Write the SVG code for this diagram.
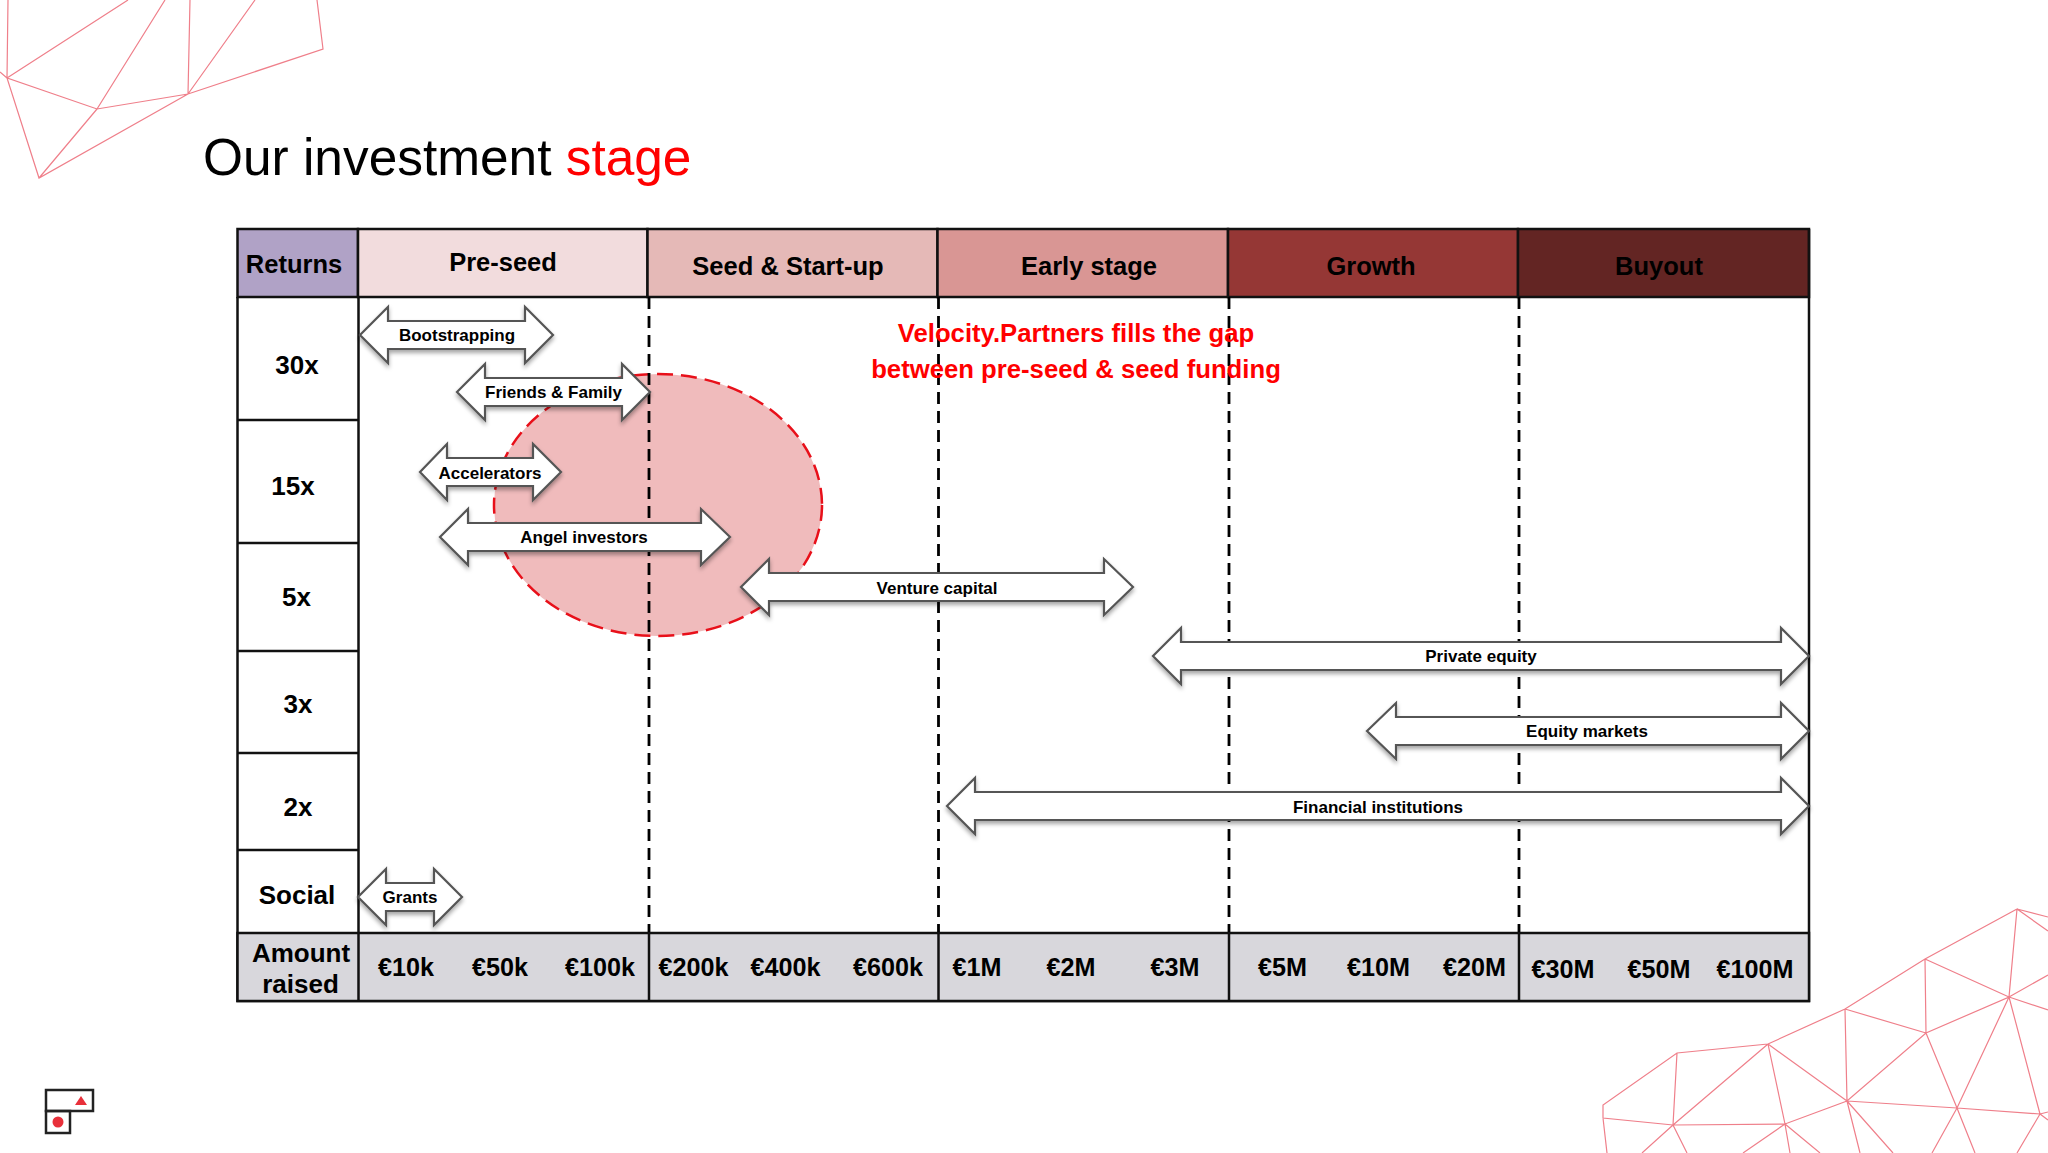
<svg xmlns="http://www.w3.org/2000/svg" width="2048" height="1153" viewBox="0 0 2048 1153">
<defs>
<style>
text{font-family:"Liberation Sans",Arial,sans-serif;fill:#000}
.b{font-weight:700;text-anchor:middle}
.h{font-size:25.500px}
.r{font-size:26px}
.a{font-size:25.200px}
.l{font-size:17px}
.cell{stroke:#111;stroke-width:2.500}
.grid{stroke:#111;stroke-width:2.500;fill:none}
.dash{stroke:#000;stroke-width:2.800;stroke-dasharray:12 7;fill:none}
.arrow{fill:#fff;stroke:#555;stroke-width:2.200;stroke-linejoin:miter;filter:url(#sh)}
.poly{fill:none;stroke:#EF7F8A;stroke-width:1.200}
</style>
<filter id="sh" x="-5%" y="-20%" width="110%" height="150%"><feDropShadow dx="0" dy="3" stdDeviation="2" flood-color="#000" flood-opacity="0.35"/></filter>
</defs>
<rect width="2048" height="1153" fill="#fff"/>
<g id="decor-top"><path class="poly" d="M317 0L323 49L188 94L97 109L7 78L39 178L188 94M97 109L39 178M97 109L165 0M7 78L128 0M7 78L8 0M7 78L0 72M188 94L190 0M188 94L255 0"/></g>
<g id="decor-bottom"><path class="poly" d="M2017 909L1925 959L1845 1009L1768 1044L1677 1053L1603 1105L1603 1118L1673 1125L1785 1124L1847 1101L1926 1033L2009 997L2017 909M1677 1053L1673 1125M1768 1044L1673 1125M1768 1044L1785 1124M1768 1044L1847 1101M1845 1009L1847 1101M1845 1009L1926 1033M1925 959L1926 1033M1925 959L2009 997M1847 1101L1957 1108L2040 1114M1926 1033L1957 1108M2009 997L1957 1108M2009 997L2040 1114M2017 909L2048 917M2017 909L2048 931M2009 997L2048 975M2009 997L2048 1010M1603 1118L1607 1153M1673 1125L1642 1153M1673 1125L1687 1153M1785 1124L1743 1153M1785 1124L1790 1153M1785 1124L1820 1153M1847 1101L1860 1153M1847 1101L1893 1153M1957 1108L1932 1153M1957 1108L1975 1153M2040 1114L2017 1153M2040 1114L2048 1120M2040 1114L2048 1112"/></g>
<g id="title"><text x="203" y="175" font-size="51.400">Our investment <tspan fill="#FF0000" style="fill:#FF0000">stage</tspan></text></g>
<g id="header">
<rect class="cell" x="237.500" y="229" width="120.500" height="68" fill="#B0A2C6"/>
<rect class="cell" x="358" y="229" width="289.500" height="68" fill="#F2DCDD"/>
<rect class="cell" x="647.500" y="229" width="290" height="68" fill="#E5B9B7"/>
<rect class="cell" x="937.500" y="229" width="290.500" height="68" fill="#D99694"/>
<rect class="cell" x="1228" y="229" width="290" height="68" fill="#953735"/>
<rect class="cell" x="1518" y="229" width="291" height="68" fill="#632523"/>
<text class="b h" x="294" y="273">Returns</text>
<text class="b h" x="503" y="271">Pre-seed</text>
<text class="b h" x="788" y="275">Seed &amp; Start-up</text>
<text class="b h" x="1089" y="275">Early stage</text>
<text class="b h" x="1371" y="275">Growth</text>
<text class="b h" x="1659" y="275">Buyout</text>
</g>
<g id="ellipse-zone"><ellipse cx="658" cy="505" rx="164" ry="131" fill="#F0BBBC" stroke="#E8101A" stroke-width="2.500" stroke-dasharray="16 8"/></g>
<g id="body">
<path class="grid" d="M237.500 297V1001H1809V229M237.500 420H358.500M237.500 543H358.500M237.500 651H358.500M237.500 753H358.500M237.500 850H358.500M358.500 297V932"/>
<rect class="cell" x="237.500" y="933" width="1571.500" height="68" fill="#D8D7DC"/>
<path class="grid" d="M358.500 933V1001M649 933V1001M938.500 933V1001M1229 933V1001M1519 933V1001"/>
</g>
<g id="connectors">
<path class="dash" d="M649 297V932"/>
<path class="dash" d="M938.500 297V932"/>
<path class="dash" d="M1229 297V932"/>
<path class="dash" d="M1519 297V932"/>
</g>
<g id="row-labels">
<text class="b r" x="297" y="374">30x</text>
<text class="b r" x="293" y="495">15x</text>
<text class="b r" x="296.500" y="606">5x</text>
<text class="b r" x="298" y="713">3x</text>
<text class="b r" x="298" y="816">2x</text>
<text class="b r" x="297" y="904">Social</text>
<text class="b r" x="301" y="962">Amount</text>
<text class="b r" x="300.500" y="993">raised</text>
</g>
<g id="amounts">
<text class="b a" x="406" y="976">€10k</text>
<text class="b a" x="500" y="976">€50k</text>
<text class="b a" x="600" y="976">€100k</text>
<text class="b a" x="693.500" y="976">€200k</text>
<text class="b a" x="785.500" y="976">€400k</text>
<text class="b a" x="888" y="976">€600k</text>
<text class="b a" x="977" y="976">€1M</text>
<text class="b a" x="1071" y="976">€2M</text>
<text class="b a" x="1175" y="976">€3M</text>
<text class="b a" x="1282.500" y="976">€5M</text>
<text class="b a" x="1378.500" y="976">€10M</text>
<text class="b a" x="1474.500" y="976">€20M</text>
<text class="b a" x="1563" y="978">€30M</text>
<text class="b a" x="1659" y="978">€50M</text>
<text class="b a" x="1755" y="978">€100M</text>
</g>
<g id="bootstrapping"><path class="arrow" d="M360 335L388 307V321H525V307L553 335L525 363V349H388V363Z"/><text class="b l" x="457" y="341">Bootstrapping</text></g>
<g id="friends-family"><path class="arrow" d="M457 392L485 364V378H622V364L650 392L622 420V406H485V420Z"/><text class="b l" x="553.500" y="398">Friends &amp; Family</text></g>
<g id="accelerators"><path class="arrow" d="M420 472L447 444V458H533V444L561 472L533 500V486H447V500Z"/><text class="b l" x="490" y="479">Accelerators</text></g>
<g id="angel-investors"><path class="arrow" d="M440 537L468 509V523H701V509L730 537L701 565V551H468V565Z"/><text class="b l" x="584" y="543">Angel investors</text></g>
<g id="venture-capital"><path class="arrow" d="M741 587L769 559V573H1104V559L1133 587L1104 615V601H769V615Z"/><text class="b l" x="937" y="594">Venture capital</text></g>
<g id="private-equity"><path class="arrow" d="M1153 656L1181 628V642H1781V628L1809 656L1781 684V670H1181V684Z"/><text class="b l" x="1481" y="662">Private equity</text></g>
<g id="equity-markets"><path class="arrow" d="M1367 731L1396 703V717H1781V703L1809 731L1781 759V745H1396V759Z"/><text class="b l" x="1587" y="737">Equity markets</text></g>
<g id="financial-institutions"><path class="arrow" d="M947 806L975 778V792H1781V778L1809 806L1781 834V820H975V834Z"/><text class="b l" x="1378" y="813">Financial institutions</text></g>
<g id="grants"><path class="arrow" d="M358 897L386 869V883H434V869L462 897L434 925V911H386V925Z"/><text class="b l" x="410" y="903">Grants</text></g>
<g id="callout">
<text class="b" x="1076" y="342" font-size="25.700" style="fill:#FF0000">Velocity.Partners fills the gap</text>
<text class="b" x="1076" y="378" font-size="25.700" style="fill:#FF0000">between pre-seed &amp; seed funding</text>
</g>
<g id="logo">
<rect x="46" y="1090" width="47" height="21" fill="none" stroke="#222" stroke-width="2.500"/>
<rect x="46" y="1111" width="24" height="22" fill="none" stroke="#222" stroke-width="2.500"/>
<path d="M81 1096L87 1105H75Z" fill="#E8303A"/>
<circle cx="58" cy="1122" r="5.500" fill="#E8303A"/>
</g>
</svg>
